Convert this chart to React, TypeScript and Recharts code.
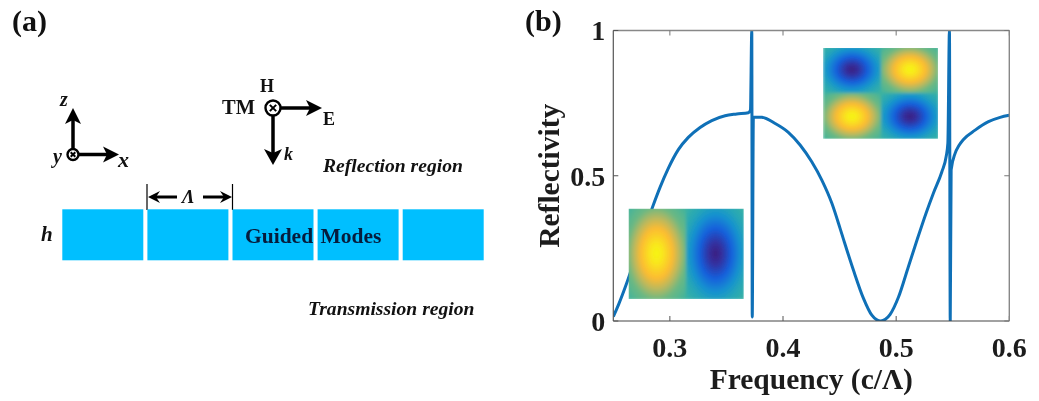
import React from "react";
import { ComposedChart, Line, XAxis, YAxis } from "recharts";

const frequency = [0.25, 0.255, 0.2618, 0.2733, 0.2848, 0.2913, 0.2986, 0.3075, 0.3163, 0.3267, 0.337, 0.3488, 0.3591, 0.3694, 0.3712, 0.3724, 0.3728, 0.3738, 0.3812, 0.393, 0.4047, 0.4151, 0.4254, 0.4343, 0.4431, 0.4505, 0.4534, 0.4622, 0.4711, 0.4785, 0.4825, 0.4864, 0.4905, 0.4947, 0.502, 0.5108, 0.5188, 0.5265, 0.5329, 0.5404, 0.5442, 0.5457, 0.5471, 0.5478, 0.5486, 0.5521, 0.5555, 0.5595, 0.5698, 0.5816, 0.5919, 0.6];
const reflectivity = [0.015, 0.06, 0.13, 0.265, 0.3935, 0.46, 0.5255, 0.59, 0.632, 0.666, 0.69, 0.7067, 0.7126, 0.717, 0.726, 1, 0.014, 0.702, 0.701, 0.68, 0.6495, 0.606, 0.548, 0.485, 0.406, 0.318, 0.282, 0.1755, 0.078, 0.02, 0.005, 0, 0.006, 0.023, 0.0816, 0.187, 0.283, 0.372, 0.44, 0.514, 0.566, 0.612, 1, 0, 0.52, 0.577, 0.604, 0.625, 0.657, 0.686, 0.701, 0.708];
const xTicks = [0.3, 0.4, 0.5, 0.6];
const yTicks = [0, 0.5, 1];
const gratingBars = [0, 1, 2, 3, 4];

const rows = frequency.map((f, i) => ({ f, r: reflectivity[i] }));
const SERIF = '"Liberation Serif", "Times New Roman", serif';

function Arrow({ x1, y1, x2, y2, w = 3.5, head = 15, half = 8 }: any) {
  const a = Math.atan2(y2 - y1, x2 - x1);
  const ux = Math.cos(a), uy = Math.sin(a);
  const bx = x2 - ux * head, by = y2 - uy * head;
  const nx = bx + ux * 4, ny = by + uy * 4;
  return (
    <g>
      <line x1={x1} y1={y1} x2={bx + ux * 5} y2={by + uy * 5} stroke="#000" strokeWidth={w} />
      <polygon fill="#000" points={`${x2},${y2} ${bx - uy * half},${by + ux * half} ${nx},${ny} ${bx + uy * half},${by - ux * half}`} />
    </g>
  );
}

function Cross({ cx, cy, r }: any) {
  const k = r * 0.42;
  return (
    <g stroke="#000" fill="#fff">
      <circle cx={cx} cy={cy} r={r} strokeWidth={2.4} />
      <line x1={cx - k} y1={cy - k} x2={cx + k} y2={cy + k} strokeWidth={2} />
      <line x1={cx - k} y1={cy + k} x2={cx + k} y2={cy - k} strokeWidth={2} />
    </g>
  );
}

function Cell({ x, y, w, h, id }: any) {
  return <rect x={x} y={y} width={w} height={h} fill={`url(#${id})`} />;
}

function Overlay() {
  return (
    <svg width={1039} height={401} style={{ position: "absolute", left: 0, top: 0, pointerEvents: "none" }} fontFamily={SERIF}>
      <defs>
        <radialGradient id="hot" cx="50%" cy="50%" r="71%">
          <stop offset="0%" stopColor="#f6f614" />
          <stop offset="15%" stopColor="#f9e61e" />
          <stop offset="38%" stopColor="#fbbb32" />
          <stop offset="54%" stopColor="#b9b85e" />
          <stop offset="70%" stopColor="#6cb882" />
          <stop offset="100%" stopColor="#3bb3a0" />
        </radialGradient>
        <radialGradient id="cold" cx="50%" cy="50%" r="71%">
          <stop offset="0%" stopColor="#3b2080" />
          <stop offset="16%" stopColor="#33309f" />
          <stop offset="38%" stopColor="#1560dc" />
          <stop offset="58%" stopColor="#1590d0" />
          <stop offset="74%" stopColor="#25a5b8" />
          <stop offset="100%" stopColor="#3bb3a0" />
        </radialGradient>
        <clipPath id="inA"><rect x={823} y={48} width={115} height={90.7} /></clipPath>
        <clipPath id="inB"><rect x={628.7} y={208.7} width={115} height={90.3} /></clipPath>
        <filter id="soft" x="-5%" y="-5%" width="110%" height="110%"><feGaussianBlur stdDeviation="1.8" /></filter>
      </defs>

      <text x={12} y={31} fontSize={30} fontWeight="bold" fill="#111">(a)</text>
      <text x={525} y={31} fontSize={30} fontWeight="bold" fill="#111">(b)</text>

      <Arrow x1={73} y1={154} x2={73} y2={108} w={3.5} head={16} half={8} />
      <Arrow x1={73} y1={154.5} x2={119} y2={154.5} w={3.5} head={16} half={8} />
      <Cross cx={73} cy={154.5} r={5.5} />
      <text x={60} y={106} fontSize={20} fontWeight="bold" fontStyle="italic" fill="#111">z</text>
      <text x={53} y={163} fontSize={20} fontWeight="bold" fontStyle="italic" fill="#111">y</text>
      <text x={118} y={167} fontSize={22} fontWeight="bold" fontStyle="italic" fill="#111">x</text>

      <Arrow x1={273} y1={108} x2={322} y2={108} w={3.5} head={16} half={8} />
      <Arrow x1={273} y1={108} x2={273} y2={165} w={3.5} head={16} half={9} />
      <Cross cx={273} cy={108} r={7.5} />
      <text x={222} y={114} fontSize={20.5} fontWeight="bold" fill="#111">TM</text>
      <text x={260} y={92} fontSize={18} fontWeight="bold" fill="#111">H</text>
      <text x={323} y={125} fontSize={18} fontWeight="bold" fill="#111">E</text>
      <text x={284} y={160} fontSize={18} fontWeight="bold" fontStyle="italic" fill="#111">k</text>
      <text x={323} y={172} fontSize={19.6} fontWeight="bold" fontStyle="italic" fill="#111">Reflection region</text>

      <line x1={147} y1={184} x2={147} y2={210} stroke="#000" strokeWidth={1.2} />
      <line x1={232.5} y1={184} x2={232.5} y2={210} stroke="#000" strokeWidth={1.2} />
      <Arrow x1={177} y1={197} x2={148} y2={197} w={3} head={12} half={6} />
      <Arrow x1={203} y1={197} x2={232} y2={197} w={3} head={12} half={6} />
      <text x={182} y={203} fontSize={19} fontWeight="bold" fontStyle="italic" fill="#111">Λ</text>

      {gratingBars.map((i) => (
        <rect key={i} x={62.3 + i * 85.1} y={209.3} width={81} height={51} fill="#00bfff" />
      ))}
      <text x={245} y={243} fontSize={21.5} fontWeight="bold" fill="#061c3c" wordSpacing={2}>Guided Modes</text>
      <text x={41} y={241} fontSize={21} fontWeight="bold" fontStyle="italic" fill="#111">h</text>
      <text x={308} y={315} fontSize={19.6} fontWeight="bold" fontStyle="italic" fill="#111">Transmission region</text>

      <g clipPath="url(#inA)">
        <g filter="url(#soft)">
          <Cell x={823} y={46} w={58} h={47} id="cold" />
          <Cell x={881} y={46} w={58} h={47} id="hot" />
          <Cell x={823} y={93} w={58} h={47} id="hot" />
          <Cell x={881} y={93} w={58} h={47} id="cold" />
        </g>
      </g>
      <g clipPath="url(#inB)">
        <g filter="url(#soft)">
          <Cell x={627} y={207} w={59} h={93} id="hot" />
          <Cell x={686} y={207} w={59} h={93} id="cold" />
        </g>
      </g>
    </svg>
  );
}

export default function App() {
  const tickFont = { fontFamily: SERIF, fontSize: 28, fontWeight: "bold", fill: "#1c1c1c" };
  const labelFont = { fontFamily: SERIF, fontSize: 29.5, fontWeight: "bold", fill: "#1c1c1c" };
  const emptyTick = () => <g />;
  return (
    <div style={{ position: "absolute", left: 0, top: 0, width: 1039, height: 401, background: "#fff", filter: "blur(0.4px)" }}>
      <ComposedChart width={1039} height={401} data={rows} margin={{ top: 29.5, right: 28.7, bottom: 20, left: 543.3 }}>
        <XAxis xAxisId="b" dataKey="f" type="number" domain={[0.25, 0.6]} ticks={xTicks} allowDataOverflow
          height={60} tickSize={-5} tickMargin={21} tick={tickFont} tickLine={{ stroke: "#555" }} axisLine={{ stroke: "#444", strokeWidth: 1.2 }}
          tickFormatter={(v: number) => v.toFixed(1)} interval={0}
          label={{ value: "Frequency (c/Λ)", position: "insideBottom", offset: -8, style: labelFont }} />
        <XAxis xAxisId="t" dataKey="f" type="number" orientation="top" domain={[0.25, 0.6]} ticks={xTicks} allowDataOverflow
          height={1} tickSize={-5} tick={emptyTick} tickLine={{ stroke: "#777" }} axisLine={{ stroke: "#888", strokeWidth: 1.4 }} />
        <YAxis yAxisId="l" type="number" domain={[0, 1]} ticks={yTicks} allowDataOverflow
          width={70} tickSize={-5} tickMargin={13} tick={tickFont} tickLine={{ stroke: "#555" }} axisLine={{ stroke: "#555", strokeWidth: 1.2 }}
          interval={0}
          label={{ value: "Reflectivity", angle: -90, position: "insideLeft", offset: 0, dx: 5, style: { ...labelFont, textAnchor: "middle" } }} />
        <YAxis yAxisId="r" type="number" orientation="right" domain={[0, 1]} ticks={yTicks} allowDataOverflow
          width={1} tickSize={-5} tick={emptyTick} tickLine={{ stroke: "#777" }} axisLine={{ stroke: "#888", strokeWidth: 1.4 }} />
        <Line xAxisId="b" yAxisId="l" dataKey="r" type="monotone" stroke="#0f70b7" strokeWidth={3} dot={false} isAnimationActive={false} />
      </ComposedChart>
      <Overlay />
    </div>
  );
}
